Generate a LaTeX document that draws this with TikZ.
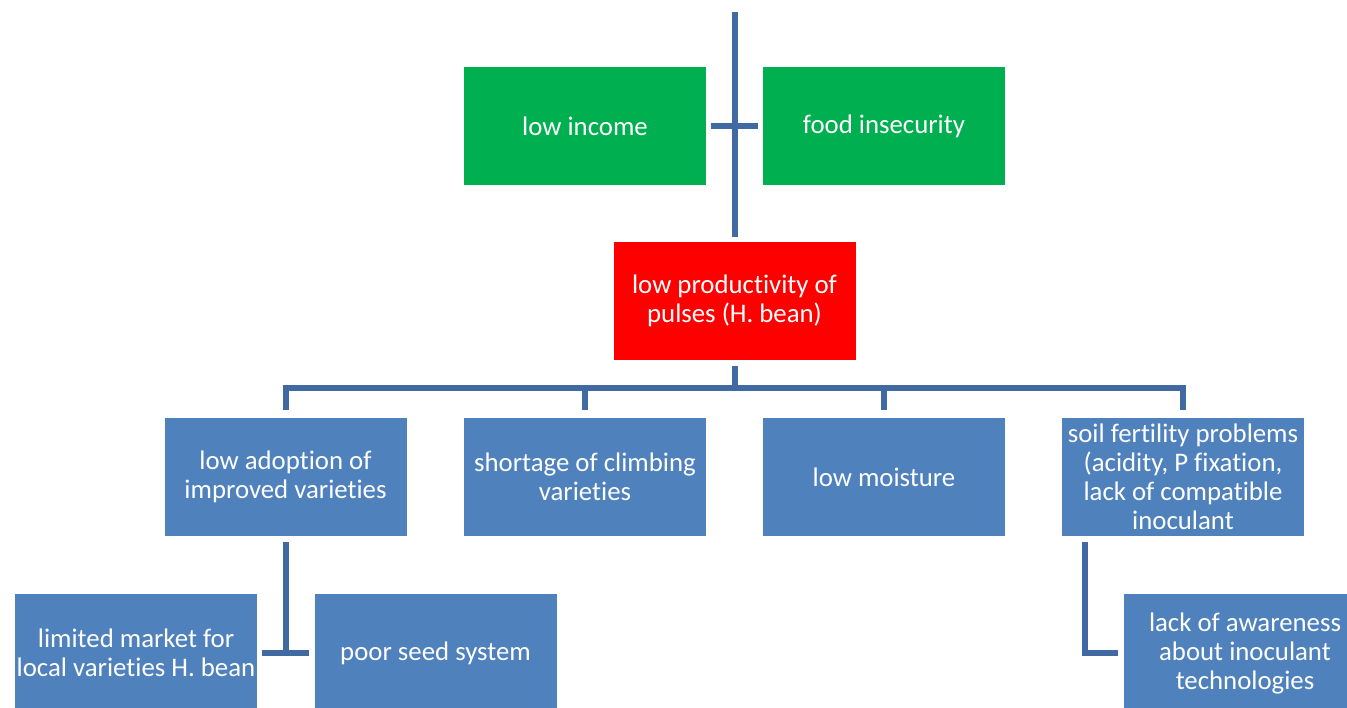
\documentclass[tikz,border=0pt]{standalone}
\usepackage{fontspec}
\setmainfont{Carlito}[Ligatures={NoCommon}]
\definecolor{cgreen}{RGB}{0,176,80}
\definecolor{cred}{RGB}{255,0,0}
\definecolor{cblue}{RGB}{79,129,189}
\definecolor{cline}{RGB}{65,106,162}
\tikzset{
  box/.style={minimum width=242pt, minimum height=118pt, inner sep=0pt, align=center,
    text=white, font=\fontsize{26.8pt}{29pt}\selectfont, draw=none},
  gbox/.style={box, fill=cgreen},
  rbox/.style={box, fill=cred},
  bbox/.style={box, fill=cblue},
  conn/.style={draw=cline, line width=6pt}
}
\begin{document}
\begin{tikzpicture}[x=1pt,y=-1pt]
\useasboundingbox (0,0) rectangle (1347,707);
\clip (0,0) rectangle (1347,707);
\node[gbox] (li) at (585,126) {low income};
\node[gbox] (fi) at (884,126) {food insecurity};
\node[rbox] (red) at (734.5,301) {low productivity of\\pulses (H. bean)};
\node[bbox] (b1) at (285.5,477) {low adoption of\\improved varieties};
\node[bbox] (b2) at (585,477) {shortage of climbing\\varieties};
\node[bbox] (b3) at (884,477) {low moisture};
\node[bbox] (b4) at (1183,477) {soil fertility problems\\(acidity, P fixation,\\lack of compatible\\inoculant};
\node[bbox] (c1) at (136,653) {limited market for\\local varieties H. bean};
\node[bbox] (c2) at (435.5,653) {poor seed system};
\node[bbox] (c3) at (1245,653) {lack of awareness\\about inoculant\\technologies};
\coordinate (top) at (734.5,12);
% top connectors
\draw[conn] (top) -- ([yshift=5pt]red.north);
\draw[conn] ([xshift=5pt]li.east) -- ([xshift=-5pt]fi.west);
% bus
\draw[conn] ([yshift=-6pt]red.south) -- ++(0,22);
\draw[conn] ([yshift=8pt]b1.north) |- ([yshift=30pt]b4.north) -- ([yshift=8pt]b4.north);
\draw[conn] ([yshift=8pt]b2.north) -- ([yshift=30pt]b2.north);
\draw[conn] ([yshift=8pt]b3.north) -- ([yshift=30pt]b3.north);
% lower left
\draw[conn] ([yshift=-6pt]b1.south) -- (b1.south |- c1.east);
\draw[conn] ([xshift=5pt]c1.east) -- ([xshift=-5pt]c2.west);
% lower right
\draw[conn] ([xshift=-98pt,yshift=-6pt]b4.south) |- ([xshift=-6pt]c3.west);
\end{tikzpicture}
\end{document}
